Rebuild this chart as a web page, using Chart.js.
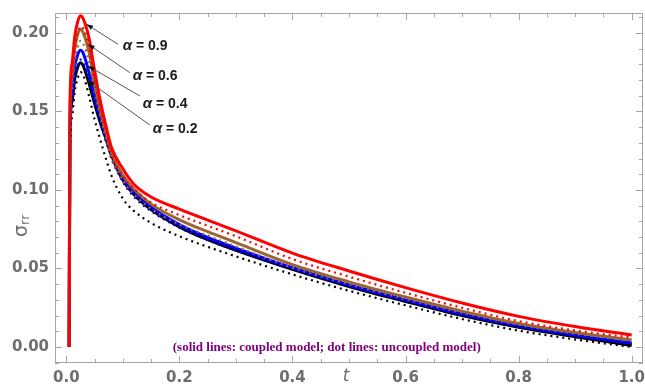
<!DOCTYPE html>
<html lang="en">
<head>
	<meta charset="UTF-8">
	<title>sigma rr</title>
	<script src="https://cdn.jsdelivr.net/npm/chart.js@4/dist/chart.umd.min.js"></script>
	<style>
		body { margin: 0; background: #fff; }
		#wrap { width: 645px; height: 387px; }
	</style>
</head>
<body>
	<div id="wrap"><canvas id="stress-chart"></canvas></div>
	<script>
		// time values (non uniform, denser near the peak)
		var tVals = [0.005, 0.0065, 0.01, 0.015, 0.02, 0.025, 0.03, 0.04, 0.05, 0.06, 0.07, 0.08, 0.1, 0.12, 0.15, 0.2, 0.25, 0.3, 0.4, 0.5, 0.6, 0.7, 0.8, 0.9, 1.0];

		// coupled model (solid)
		var coupled09 = [0, 0.155, 0.180, 0.198, 0.207, 0.211, 0.209, 0.197, 0.176, 0.157, 0.141, 0.127, 0.1135, 0.1035, 0.0955, 0.0878, 0.0808, 0.0740, 0.0598, 0.0484, 0.0378, 0.0280, 0.0195, 0.0130, 0.0076];
		var coupled06 = [0, 0.148, 0.172, 0.190, 0.199, 0.2025, 0.200, 0.188, 0.168, 0.151, 0.137, 0.124, 0.1095, 0.1005, 0.091, 0.081, 0.0735, 0.0665, 0.0525, 0.0415, 0.0318, 0.0228, 0.0150, 0.0092, 0.0045];
		var coupled04 = [0, 0.140, 0.163, 0.179, 0.186, 0.189, 0.187, 0.175, 0.160, 0.147, 0.135, 0.124, 0.108, 0.0985, 0.089, 0.078, 0.0698, 0.0630, 0.0505, 0.0395, 0.0300, 0.0210, 0.0135, 0.0075, 0.0025];
		var coupled02 = [0, 0.135, 0.156, 0.171, 0.178, 0.181, 0.179, 0.168, 0.155, 0.143, 0.1326, 0.122, 0.1063, 0.097, 0.0875, 0.0765, 0.0683, 0.0615, 0.0494, 0.0385, 0.0290, 0.0200, 0.0125, 0.0065, 0.001];

		// uncoupled model (dotted)
		var uncoupled09 = [0, 0.145, 0.170, 0.190, 0.200, 0.204, 0.203, 0.191, 0.170, 0.152, 0.137, 0.122, 0.109, 0.1005, 0.092, 0.084, 0.0772, 0.0705, 0.0560, 0.0448, 0.0345, 0.0250, 0.0165, 0.0105, 0.006];
		var uncoupled06 = [0, 0.140, 0.164, 0.182, 0.191, 0.195, 0.193, 0.182, 0.163, 0.147, 0.133, 0.120, 0.106, 0.097, 0.088, 0.078, 0.071, 0.064, 0.0505, 0.040, 0.0305, 0.0218, 0.0142, 0.0085, 0.004];
		var uncoupled04 = [0, 0.132, 0.155, 0.171, 0.179, 0.183, 0.181, 0.170, 0.156, 0.143, 0.131, 0.120, 0.105, 0.0955, 0.0865, 0.076, 0.068, 0.0615, 0.0495, 0.0388, 0.0294, 0.0205, 0.013, 0.0071, 0.0022];
		var uncoupled02 = [0, 0.125, 0.146, 0.163, 0.171, 0.175, 0.173, 0.160, 0.145, 0.132, 0.120, 0.109, 0.0945, 0.0865, 0.0790, 0.0705, 0.0638, 0.0577, 0.0462, 0.0358, 0.0265, 0.0178, 0.0104, 0.0048, 0.0];

		var xTicks = [0.0, 0.2, 0.4, 0.6, 0.8, 1.0];
		var yTicks = [0.00, 0.05, 0.10, 0.15, 0.20];

		var alphaLabels = ["0.9", "0.6", "0.4", "0.2"];
		// [tail t, tail value, tip t, tip value, label t, label value]
		var arrowSpots = [
			[0.0916, 0.1928, 0.0357, 0.2055, 0.0999, 0.1917],
			[0.1123, 0.1747, 0.0386, 0.1928, 0.1176, 0.1726],
			[0.1300, 0.1599, 0.0386, 0.1790, 0.1353, 0.1548],
			[0.1477, 0.1414, 0.0386, 0.1694, 0.1530, 0.1389]
		];
		var noteText = "(solid lines: coupled model; dot lines: uncoupled model)";

		function pts(vals) {
			return tVals.map(function (t, i) { return { x: t, y: vals[i] }; });
		}

		function solid(vals, color) {
			return { data: pts(vals), borderColor: color, borderWidth: 3, pointRadius: 0,
				cubicInterpolationMode: 'monotone', order: 2 };
		}
		function dotted(vals, color) {
			return { data: pts(vals), borderColor: color, borderWidth: 2.2, borderDash: [2, 4],
				pointRadius: 0, cubicInterpolationMode: 'monotone', order: 1 };
		}

		var gray = '#6e6e6e';

		var framePlugin = {
			id: 'frame',
			afterDraw: function (chart) {
				var ctx = chart.ctx, a = chart.chartArea;
				var xs = chart.scales.x, ys = chart.scales.y;
				ctx.save();
				ctx.strokeStyle = '#a5a5a5';
				ctx.lineWidth = 1;
				ctx.strokeRect(a.left + 0.5, a.top + 0.5, a.right - a.left - 1, a.bottom - a.top - 1);

				// inward ticks
				ctx.beginPath();
				for (var i = -1; i <= 21; i++) {
					var v = i / 100;
					if (v < ys.min || v > ys.max) continue;
					var py = Math.round(ys.getPixelForValue(v)) + 0.5;
					var len = (i % 5 === 0) ? 7 : 4;
					ctx.moveTo(a.left, py); ctx.lineTo(a.left + len, py);
					ctx.moveTo(a.right, py); ctx.lineTo(a.right - len, py);
				}
				for (var j = 0; j <= 20; j++) {
					var xv = j / 20;
					var px = Math.round(xs.getPixelForValue(xv)) + 0.5;
					var l2 = (j % 4 === 0) ? 7 : 4;
					ctx.moveTo(px, a.bottom); ctx.lineTo(px, a.bottom - l2);
					ctx.moveTo(px, a.top); ctx.lineTo(px, a.top + l2);
				}
				ctx.stroke();

				// arrows + alpha labels
				arrowSpots.forEach(function (s, k) {
					var x0 = xs.getPixelForValue(s[0]), y0 = ys.getPixelForValue(s[1]);
					var x1 = xs.getPixelForValue(s[2]), y1 = ys.getPixelForValue(s[3]);
					ctx.strokeStyle = '#555';
					ctx.lineWidth = 1;
					ctx.beginPath(); ctx.moveTo(x0, y0); ctx.lineTo(x1, y1); ctx.stroke();
					var ang = Math.atan2(y1 - y0, x1 - x0);
					ctx.fillStyle = '#111';
					ctx.beginPath();
					ctx.moveTo(x1, y1);
					ctx.lineTo(x1 - 7 * Math.cos(ang - 0.35), y1 - 7 * Math.sin(ang - 0.35));
					ctx.lineTo(x1 - 7 * Math.cos(ang + 0.35), y1 - 7 * Math.sin(ang + 0.35));
					ctx.closePath(); ctx.fill();

					var lx = xs.getPixelForValue(s[4]), ly = ys.getPixelForValue(s[5]);
					ctx.fillStyle = '#1a1a1a';
					ctx.textBaseline = 'middle';
					ctx.textAlign = 'left';
					ctx.font = 'italic bold 15px "Liberation Sans"';
					ctx.fillText('\u03b1', lx, ly);
					var w = ctx.measureText('\u03b1').width;
					ctx.font = 'bold 14px "Liberation Sans"';
					ctx.fillText(' = ' + alphaLabels[k], lx + w, ly);
				});

				// note
				ctx.fillStyle = '#800080';
				ctx.font = 'bold 13px "Liberation Serif"';
				ctx.textAlign = 'center';
				ctx.textBaseline = 'middle';
				ctx.fillText(noteText, xs.getPixelForValue(0.4607), ys.getPixelForValue(0) + 1);

				// x axis title "t"
				ctx.fillStyle = gray;
				ctx.font = 'italic 17px "DejaVu Sans"';
				ctx.fillText('t', xs.getPixelForValue(0.495), a.bottom + 14);

				// y axis title sigma_rr
				ctx.translate(22, 223);
				ctx.rotate(-Math.PI / 2);
				ctx.textAlign = 'left';
				ctx.textBaseline = 'alphabetic';
				ctx.font = '19px "DejaVu Sans"';
				ctx.fillText('\u03c3', -14, 5);
				var sw = ctx.measureText('\u03c3').width;
				ctx.font = '13px "DejaVu Sans"';
				ctx.fillText('rr', -14 + sw, 7);
				ctx.restore();
			}
		};

		new Chart(document.getElementById('stress-chart'), {
			type: 'line',
			data: {
				datasets: [
					solid(coupled09, '#ff0000'),
					solid(coupled06, '#996633'),
					solid(coupled04, '#0000ff'),
					solid(coupled02, '#000000'),
					dotted(uncoupled09, '#ff0000'),
					dotted(uncoupled06, '#996633'),
					dotted(uncoupled04, '#0000ff'),
					dotted(uncoupled02, '#000000')
				]
			},
			options: {
				responsive: true,
				maintainAspectRatio: false,
				animation: false,
				layout: { padding: { top: 13, right: 2, left: 0, bottom: 0 } },
				plugins: { legend: { display: false }, tooltip: { enabled: false } },
				scales: {
					x: {
						type: 'linear', min: -0.02, max: 1.02,
						grid: { display: false, drawTicks: false, tickLength: 0 },
						border: { display: false },
						afterBuildTicks: function (s) { s.ticks = xTicks.map(function (v) { return { value: v }; }); },
						afterFit: function (s) { s.height = 24; s.paddingLeft = 0; s.paddingRight = 0; },
						ticks: {
							padding: 6, color: gray, maxRotation: 0, autoSkip: false,
							font: { family: 'DejaVu Sans', size: 15, weight: 'bold' },
							callback: function (v) { return v.toFixed(1); }
						}
					},
					y: {
						type: 'linear', min: -0.0102, max: 0.2127,
						grid: { display: false, drawTicks: false, tickLength: 0 },
						border: { display: false },
						afterBuildTicks: function (s) { s.ticks = yTicks.map(function (v) { return { value: v }; }); },
						afterFit: function (s) { s.width = 55; s.paddingTop = 0; s.paddingBottom = 0; },
						ticks: {
							padding: 6, color: gray, autoSkip: false,
							font: { family: 'DejaVu Sans', size: 15, weight: 'bold' },
							callback: function (v) { return v.toFixed(2); }
						}
					}
				}
			},
			plugins: [framePlugin]
		});
	</script>
</body>
</html>
